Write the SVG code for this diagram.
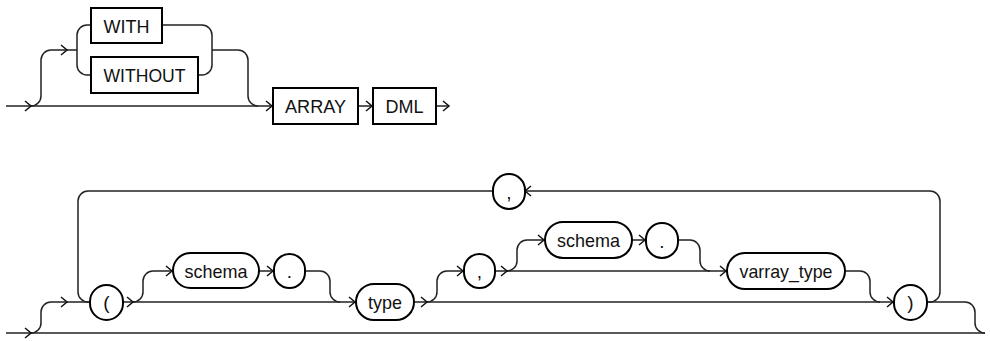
<svg xmlns="http://www.w3.org/2000/svg" xmlns:xlink="http://www.w3.org/1999/xlink" width="990" height="341" viewBox="0 0 990 341">
<style>
.bg{fill:#fff}
.box{fill:#fff;stroke:#000;stroke-width:2}
.ln{fill:none;stroke:#222;stroke-width:1.5}
.ar{fill:none;stroke:#111;stroke-width:1.5}
.t{font-family:"Liberation Sans",Arial,Helvetica,sans-serif;font-size:19px;fill:#111;text-anchor:middle}
</style>
<defs>
<path id="a" class="ar" d="M-6,-5 L0,0 L-6,5"/>
</defs>
<rect class="bg" x="0" y="0" width="990" height="341"/>
<g id="connectors">
<path class="ln" d="M6,106 H273"/>
<path class="ln" d="M31,106 A10,10 0 0 0 41,96 V60 A10,10 0 0 1 51,50 H77"/>
<path class="ln" d="M77,50 V35 A10,10 0 0 1 87,25 H91"/>
<path class="ln" d="M77,50 V65 A10,10 0 0 0 87,75 H91"/>
<path class="ln" d="M162,25 H202 A10,10 0 0 1 212,35 V65 A10,10 0 0 1 202,75 H198"/>
<path class="ln" d="M212,50 H238 A10,10 0 0 1 248,60 V96 A10,10 0 0 0 258,106"/>
<path class="ln" d="M358,106 H373"/>
<path class="ln" d="M436,106 H449"/>
<use xlink:href="#a" x="31" y="106"/>
<use xlink:href="#a" x="67" y="50"/>
<use xlink:href="#a" x="272" y="106"/>
<use xlink:href="#a" x="372" y="106"/>
<use xlink:href="#a" x="449" y="106"/>

<path class="ln" d="M6,333 H985"/>
<path class="ln" d="M31,333 A10,10 0 0 0 41,323 V312 A10,10 0 0 1 51,302 H90"/>
<path class="ln" d="M90,302 H88 A10,10 0 0 1 78,292 V201 A10,10 0 0 1 88,191 H493"/>
<path class="ln" d="M525,191 H930 A10,10 0 0 1 940,201 V292 A10,10 0 0 1 930,302 H927"/>
<path class="ln" d="M123,302 H356"/>
<path class="ln" d="M133,302 A10,10 0 0 0 143,292 V281 A10,10 0 0 1 153,271 H173"/>
<path class="ln" d="M259,271 H274"/>
<path class="ln" d="M305,271 H320 A10,10 0 0 1 330,281 V292 A10,10 0 0 0 340,302"/>
<path class="ln" d="M414,302 H894"/>
<path class="ln" d="M427,302 A10,10 0 0 0 437,292 V281 A10,10 0 0 1 447,271 H464"/>
<path class="ln" d="M495,271 H727"/>
<path class="ln" d="M507,271 A10,10 0 0 0 517,261 V250 A10,10 0 0 1 527,240 H545"/>
<path class="ln" d="M632,240 H646"/>
<path class="ln" d="M678,240 H690 A10,10 0 0 1 700,250 V261 A10,10 0 0 0 710,271"/>
<path class="ln" d="M845,271 H860 A10,10 0 0 1 870,281 V292 A10,10 0 0 0 880,302"/>
<path class="ln" d="M927,302 H965 A10,10 0 0 1 975,312 V323 A10,10 0 0 0 985,333"/>
<use xlink:href="#a" x="31" y="333"/>
<use xlink:href="#a" x="67" y="302"/>
<use xlink:href="#a" x="133" y="302"/>
<use xlink:href="#a" x="172" y="271"/>
<use xlink:href="#a" x="273" y="271"/>
<use xlink:href="#a" x="355" y="302"/>
<use xlink:href="#a" x="427" y="302"/>
<use xlink:href="#a" x="463" y="271"/>
<use xlink:href="#a" x="507" y="271"/>
<use xlink:href="#a" x="544" y="240"/>
<use xlink:href="#a" x="645" y="240"/>
<use xlink:href="#a" x="726" y="271"/>
<use xlink:href="#a" x="893" y="302"/>
<use xlink:href="#a" transform="translate(525,191) rotate(180)"/>
</g>
<g id="n-with"><rect class="box" x="91" y="8" width="71" height="35"/><text class="t" x="126.5" y="32.5" textLength="46" lengthAdjust="spacingAndGlyphs">WITH</text></g>
<g id="n-without"><rect class="box" x="91" y="57" width="107" height="36"/><text class="t" x="144.5" y="82" textLength="82" lengthAdjust="spacingAndGlyphs">WITHOUT</text></g>
<g id="n-array"><rect class="box" x="273" y="88" width="85" height="36"/><text class="t" x="315.5" y="113" textLength="61" lengthAdjust="spacingAndGlyphs">ARRAY</text></g>
<g id="n-dml"><rect class="box" x="373" y="88" width="63" height="36"/><text class="t" x="404.5" y="113" textLength="38" lengthAdjust="spacingAndGlyphs">DML</text></g>

<g id="n-lparen"><rect class="box" x="90" y="285" width="33" height="35" rx="16.5"/><text class="t" x="106.5" y="309">(</text></g>
<g id="n-schema1"><rect class="box" x="173" y="253" width="86" height="35" rx="17.5"/><text class="t" x="216" y="277.5" textLength="63" lengthAdjust="spacingAndGlyphs">schema</text></g>
<g id="n-dot1"><rect class="box" x="274" y="254" width="31" height="34" rx="15.5"/><text class="t" x="289.5" y="278">.</text></g>
<g id="n-type"><rect class="box" x="356" y="284" width="58" height="36" rx="18"/><text class="t" x="385" y="309" textLength="34" lengthAdjust="spacingAndGlyphs">type</text></g>
<g id="n-comma1"><rect class="box" x="464" y="254" width="31" height="34" rx="15.5"/><text class="t" x="479.5" y="278">,</text></g>
<g id="n-schema2"><rect class="box" x="545" y="222" width="87" height="36" rx="18"/><text class="t" x="588.5" y="247" textLength="63" lengthAdjust="spacingAndGlyphs">schema</text></g>
<g id="n-dot2"><rect class="box" x="646" y="223" width="32" height="35" rx="16"/><text class="t" x="662" y="247.5">.</text></g>
<g id="n-varray"><rect class="box" x="727" y="253" width="118" height="36" rx="18"/><text class="t" x="786" y="278" textLength="93" lengthAdjust="spacingAndGlyphs">varray_type</text></g>
<g id="n-rparen"><rect class="box" x="894" y="285" width="33" height="35" rx="16.5"/><text class="t" x="910.5" y="309">)</text></g>
<g id="n-comma2"><rect class="box" x="493" y="174" width="32" height="35" rx="16"/><text class="t" x="509" y="198.5">,</text></g>
</svg>
